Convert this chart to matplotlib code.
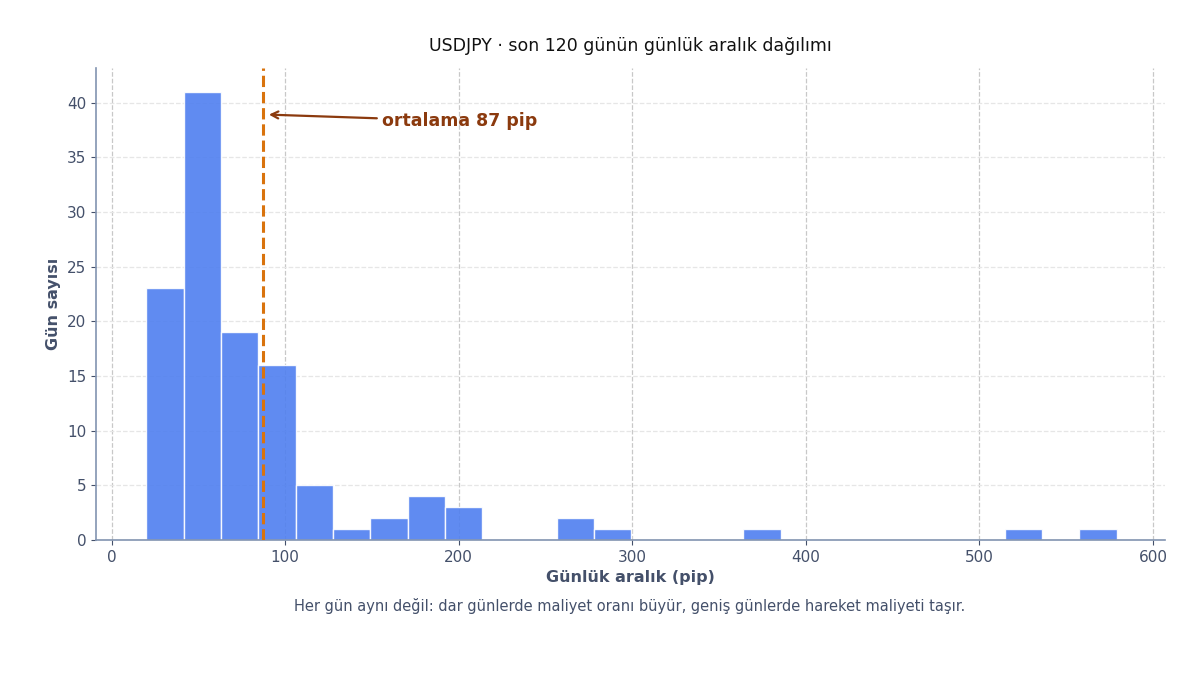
import matplotlib
matplotlib.use("Agg")
import matplotlib.pyplot as plt
import numpy as np

bin_start = 20.0
bin_width = 21.5
counts = [23, 41, 19, 16, 5, 1, 2, 4, 3, 0, 0, 2, 1, 0, 0, 0, 1, 0, 0, 0, 0, 0, 0, 1, 0, 1]
mean_pip = 87
title = "USDJPY · son 120 günün günlük aralık dağılımı"
xlabel = "Günlük aralık (pip)"
ylabel = "Gün sayısı"
caption = "Her gün aynı değil: dar günlerde maliyet oranı büyür, geniş günlerde hareket maliyeti taşır."
annot = "ortalama 87 pip"

edges = bin_start + bin_width * np.arange(len(counts))

fig = plt.figure(figsize=(12, 6.75), dpi=100)
ax = fig.add_axes([0.08, 0.2, 0.891, 0.7])
ax.bar(edges, counts, width=bin_width, align="edge", color="#4f7ff0", alpha=0.9,
       edgecolor="white", linewidth=1, zorder=2)
ax.axvline(mean_pip, color="#d9730d", linestyle="--", linewidth=2.2, zorder=3)
ax.annotate(annot, xy=(mean_pip + 2, 38.9), xytext=(156, 38.3), color="#8b3a0e",
            fontsize=12.5, fontweight="bold", va="center",
            arrowprops=dict(arrowstyle="->", color="#8b3a0e", lw=1.6))
ax.set_xlim(-9, 607)
ax.set_ylim(0, 43.2)
ax.set_xticks([0, 100, 200, 300, 400, 500, 600])
ax.set_yticks(range(0, 45, 5))
ax.grid(axis="x", linestyle="--", color="#c8c8c8", linewidth=0.9, zorder=0)
ax.grid(axis="y", linestyle="--", color="#e6e6e6", linewidth=0.9, zorder=0)
for s in ["top", "right"]:
    ax.spines[s].set_visible(False)
for s in ["left", "bottom"]:
    ax.spines[s].set_color("#8294b0")
    ax.spines[s].set_linewidth(1.2)
ax.tick_params(colors="#44506a", labelsize=11)
ax.set_title(title, fontsize=12.5, color="#111111", pad=12)
ax.set_xlabel(xlabel, fontsize=11.5, fontweight="bold", color="#44506a")
ax.set_ylabel(ylabel, fontsize=11.5, fontweight="bold", color="#44506a")
fig.text(0.525, 0.095, caption, ha="center", fontsize=10.5, color="#44506a")
fig.savefig("out.png", dpi=100)
